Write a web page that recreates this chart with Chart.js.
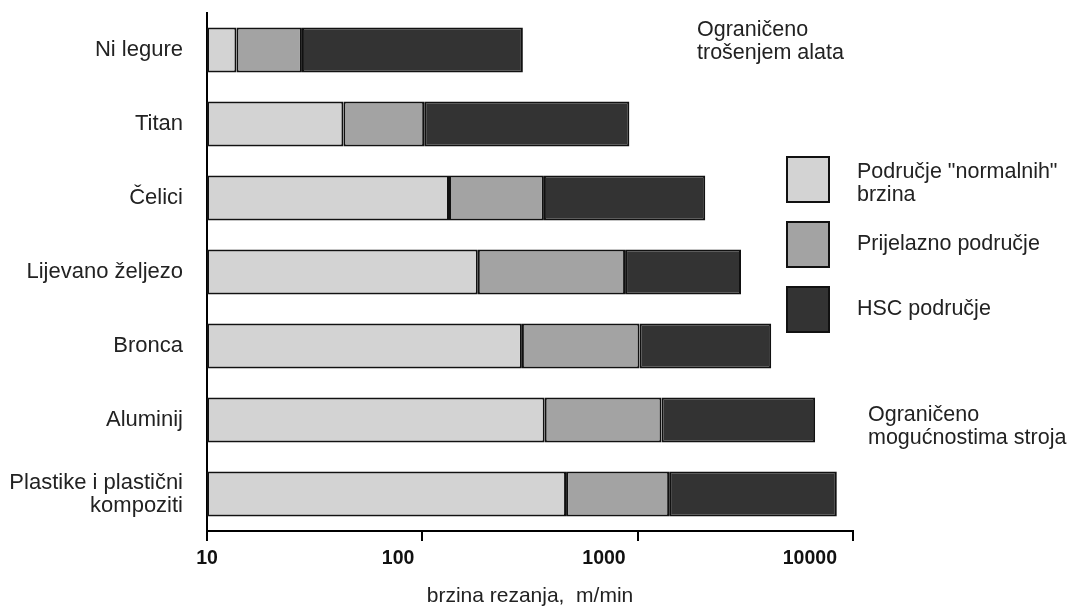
<!DOCTYPE html>
<html>
<head>
<meta charset="utf-8">
<script src="https://cdn.jsdelivr.net/npm/chart.js@4"></script>
<style>
  body { margin: 0; background: #fff; }
  #wrap { width: 1069px; height: 609px; }
</style>
</head>
<body>
<div id="wrap"><canvas id="hscChart"></canvas></div>
<script>
// materials and speed limits (m/min)
const materials = ['Ni legure', 'Titan', 'Čelici', 'Lijevano željezo', 'Bronca', 'Aluminij', ['Plastike i plastični', 'kompoziti']];
const axisStart = 10;
const normalEnd = [13.7, 43, 133, 181, 290, 370, 465];
const transitionEnd = [27.6, 102, 367, 874, 1020, 1290, 1400];
const hscEnd = [293, 915, 2060, 3020, 4170, 6670, 8410];
const tickValues = [10, 100, 1000, 10000];

const legendLabels = [['Područje "normalnih"', 'brzina'], ['Prijelazno područje'], ['HSC područje']];
const noteTop = ['Ograničeno', 'trošenjem alata'];
const noteRight = ['Ograničeno', 'mogućnostima stroja'];

const colors = ['#d3d3d3', '#a3a3a3', '#333333'];
const FONT = '"Liberation Sans", Arial, sans-serif';

const normalData = normalEnd.map(v => [axisStart, v]);
const transitionData = transitionEnd.map((v, i) => [normalEnd[i], v]);
const hscData = hscEnd.map((v, i) => [transitionEnd[i], v]);

// legend boxes, notes and x tick labels (the original sets them left of the tick)
const sideText = {
  id: 'sideText',
  afterDraw(chart) {
    const ctx = chart.ctx;
    ctx.save();
    ctx.font = '21.5px ' + FONT;
    ctx.fillStyle = '#222';
    ctx.textBaseline = 'middle';
    ctx.textAlign = 'left';

    const boxTops = [157, 222, 287];
    chart.data.datasets.forEach((ds, i) => {
      ctx.fillStyle = ds.backgroundColor;
      ctx.fillRect(787, boxTops[i], 42, 45);
      ctx.strokeStyle = '#111';
      ctx.lineWidth = 2;
      ctx.strokeRect(787, boxTops[i], 42, 45);
      ctx.fillStyle = '#222';
      const lines = legendLabels[i];
      const y0 = lines.length > 1 ? boxTops[i] + 15 : boxTops[i] + 22;
      lines.forEach((t, j) => ctx.fillText(t, 857, y0 + j * 23));
    });

    noteTop.forEach((t, j) => ctx.fillText(t, 697, 30 + j * 23));
    noteRight.forEach((t, j) => ctx.fillText(t, 868, 415 + j * 23));

    const xs = chart.scales.x;
    ctx.font = 'bold 19.5px ' + FONT;
    ctx.fillStyle = '#111';
    tickValues.forEach((v, i) => {
      const px = xs.getPixelForValue(v);
      if (i === 0) {
        ctx.textAlign = 'center';
        ctx.fillText(String(v), px, xs.top + 28);
      } else {
        ctx.textAlign = 'right';
        ctx.fillText(String(v), px - 4 - 4 * i, xs.top + 28);
      }
    });
    ctx.restore();
  }
};

function makeDataset(label, data, color) {
  return {
    label: label,
    data: data,
    backgroundColor: color,
    borderColor: '#111',
    borderWidth: 2,
    borderSkipped: false,
    barPercentage: 0.61,
    categoryPercentage: 1,
    grouped: false
  };
}

new Chart(document.getElementById('hscChart'), {
  type: 'bar',
  data: {
    labels: materials,
    datasets: [
      makeDataset(legendLabels[0].join(' '), normalData, colors[0]),
      makeDataset(legendLabels[1][0], transitionData, colors[1]),
      makeDataset(legendLabels[2][0], hscData, colors[2])
    ]
  },
  options: {
    indexAxis: 'y',
    responsive: true,
    maintainAspectRatio: false,
    animation: false,
    layout: { padding: { top: 13, right: 216, left: 0, bottom: 0 } },
    plugins: {
      legend: { display: false },
      tooltip: { enabled: false }
    },
    scales: {
      x: {
        type: 'logarithmic',
        min: 10,
        max: 10000,
        afterBuildTicks: scale => {
          scale.ticks = tickValues.map(v => ({ value: v }));
        },
        afterFit: scale => {
          scale.height = 78;
          scale.paddingLeft = 0;
          scale.paddingRight = 0;
        },
        grid: {
          drawOnChartArea: false,
          drawTicks: true,
          tickLength: 10,
          color: '#000',
          lineWidth: 2
        },
        border: { display: true, color: '#000', width: 2 },
        ticks: { display: false, autoSkip: false },
        title: {
          display: true,
          text: 'brzina rezanja,  m/min',
          color: '#222',
          font: { family: FONT, size: 21 },
          padding: { top: 8, bottom: 0 }
        }
      },
      y: {
        afterFit: scale => {
          scale.width = 207;
          scale.paddingTop = 0;
          scale.paddingBottom = 0;
        },
        grid: { display: false },
        border: { display: true, color: '#000', width: 2 },
        ticks: {
          padding: 16,
          color: '#222',
          font: { family: FONT, size: 22, lineHeight: 1.05 }
        }
      }
    }
  },
  plugins: [sideText]
});
</script>
</body>
</html>
